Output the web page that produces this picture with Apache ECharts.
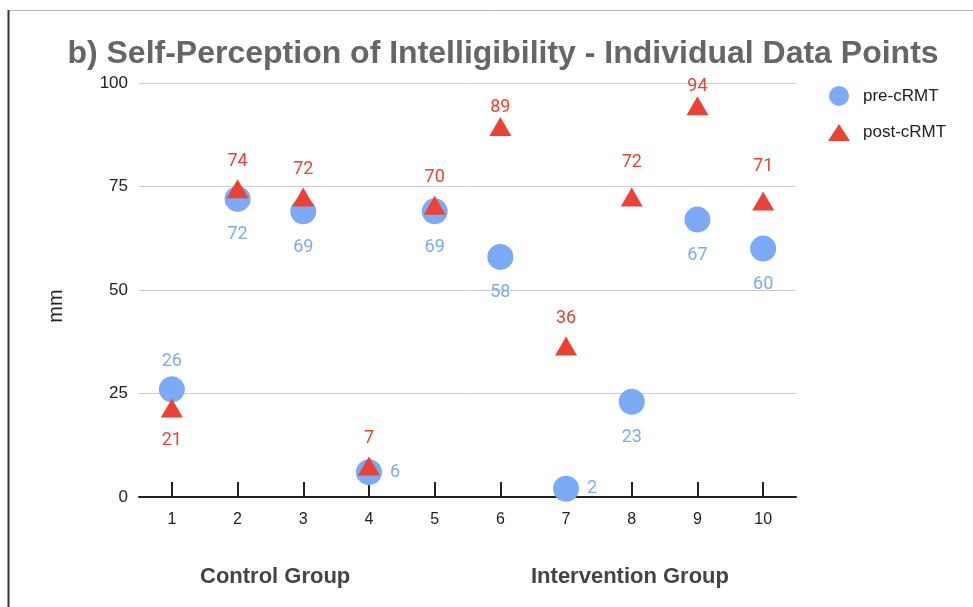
<!DOCTYPE html>
<html>
<head>
<meta charset="utf-8">
<script src="https://cdn.jsdelivr.net/npm/echarts@6/dist/echarts.min.js"></script>
<style>
html,body{margin:0;padding:0;background:#fff;}
#chart{width:973px;height:607px;}
</style>
</head>
<body>
<div id="chart"></div>
<script>
var categories = ['1','2','3','4','5','6','7','8','9','10'];
var preValues = [26, 72, 69, 6, 69, 58, 2, 23, 67, 60];
var postValues = [21, 74, 72, 7, 70, 89, 36, 72, 94, 71];
var yTicks = [0, 25, 50, 75, 100];
var groupNames = ['Control Group', 'Intervention Group'];

// label placement exceptions (default: pre below, post above)
var preLabelPos = {0: 'top', 3: 'right', 6: 'right'};
var postLabelPos = {0: 'bottom'};
// post labels that sit closer / farther than usual
var postLabelDist = {5: 1, 7: 16, 8: 1, 9: 16};

var BLUE = '#7baaf7';
var RED = '#ea4335';
var FONT = 'Liberation Sans, Arial, sans-serif';

function buildData(values, posMap, defPos, distMap, topDist) {
    return values.map(function (v, i) {
        var pos = posMap[i] || defPos;
        var dist = pos == 'bottom' ? 14 : (pos == 'right' ? 8 : topDist);
        if (distMap[i] !== undefined) dist = distMap[i];
        return {value: v, label: {position: pos, distance: dist}};
    });
}

var myChart = echarts.init(document.getElementById('chart'));

var option = {
    animation: false,
    textStyle: {fontFamily: FONT},
    title: {
        text: 'b) Self-Perception of Intelligibility - Individual Data Points',
        left: 498,
        textAlign: 'center',
        top: 33,
        textStyle: {fontSize: 32, fontWeight: 'bold', color: '#666666', fontFamily: FONT}
    },
    legend: {
        orient: 'vertical',
        left: 823,
        top: 81,
        itemWidth: 22,
        itemHeight: 20,
        itemGap: 18,
        textStyle: {fontSize: 17, color: '#222', padding: [0, 0, 0, 8]},
        data: [
            {name: 'pre-cRMT', icon: 'circle'},
            {name: 'post-cRMT', icon: 'path://M0,13 L8.5,0 L17,13 Z'}
        ]
    },
    grid: {left: 139, right: 177, top: 83, bottom: 110},
    xAxis: {
        type: 'category',
        data: categories,
        boundaryGap: true,
        axisLine: {lineStyle: {color: '#222', width: 2}},
        axisTick: {show: true, interval: 0, alignWithLabel: true, inside: true, length: 15, lineStyle: {color: '#222', width: 2}},
        axisLabel: {fontSize: 16, color: '#222', margin: 15},
        splitLine: {show: false}
    },
    yAxis: {
        type: 'value',
        min: yTicks[0],
        max: yTicks[yTicks.length - 1],
        interval: 25,
        axisLine: {show: false},
        axisTick: {show: false},
        axisLabel: {fontSize: 17, color: '#222', margin: 11},
        splitLine: {lineStyle: {color: '#cccccc', width: 1}}
    },
    series: [
        {
            name: 'pre-cRMT',
            type: 'scatter',
            symbol: 'circle',
            symbolSize: 26,
            itemStyle: {color: BLUE, opacity: 1},
            label: {show: true, color: BLUE, fontSize: 18, fontFamily: 'Roboto'},
            data: buildData(preValues, preLabelPos, 'bottom', {}, 6),
            z: 2
        },
        {
            name: 'post-cRMT',
            type: 'scatter',
            symbol: 'triangle',
            symbolSize: [22, 19],
            symbolOffset: [0, -2],
            itemStyle: {color: RED, opacity: 1},
            label: {show: true, color: RED, fontSize: 18, fontFamily: 'Roboto'},
            data: buildData(postValues, postLabelPos, 'top', postLabelDist, 9),
            z: 3
        }
    ],
    graphic: [
        {type: 'line', shape: {x1: 8, y1: 10.5, x2: 973, y2: 10.5}, style: {stroke: '#bbbbbb', lineWidth: 1}},
        {type: 'line', shape: {x1: 8.5, y1: 10, x2: 8.5, y2: 607}, style: {stroke: '#333333', lineWidth: 2}},
        {type: 'text', x: 56, y: 306, rotation: Math.PI / 2,
            style: {text: 'mm', fontSize: 20, fill: '#222', fontFamily: FONT, align: 'center', verticalAlign: 'middle'}},
        {type: 'text', left: 200, top: 566, style: {text: groupNames[0], fontSize: 22, fontWeight: 'bold', fill: '#444444', fontFamily: FONT}},
        {type: 'text', left: 531, top: 566, style: {text: groupNames[1], fontSize: 22, fontWeight: 'bold', fill: '#444444', fontFamily: FONT}}
    ]
};

myChart.setOption(option);
</script>
</body>
</html>
